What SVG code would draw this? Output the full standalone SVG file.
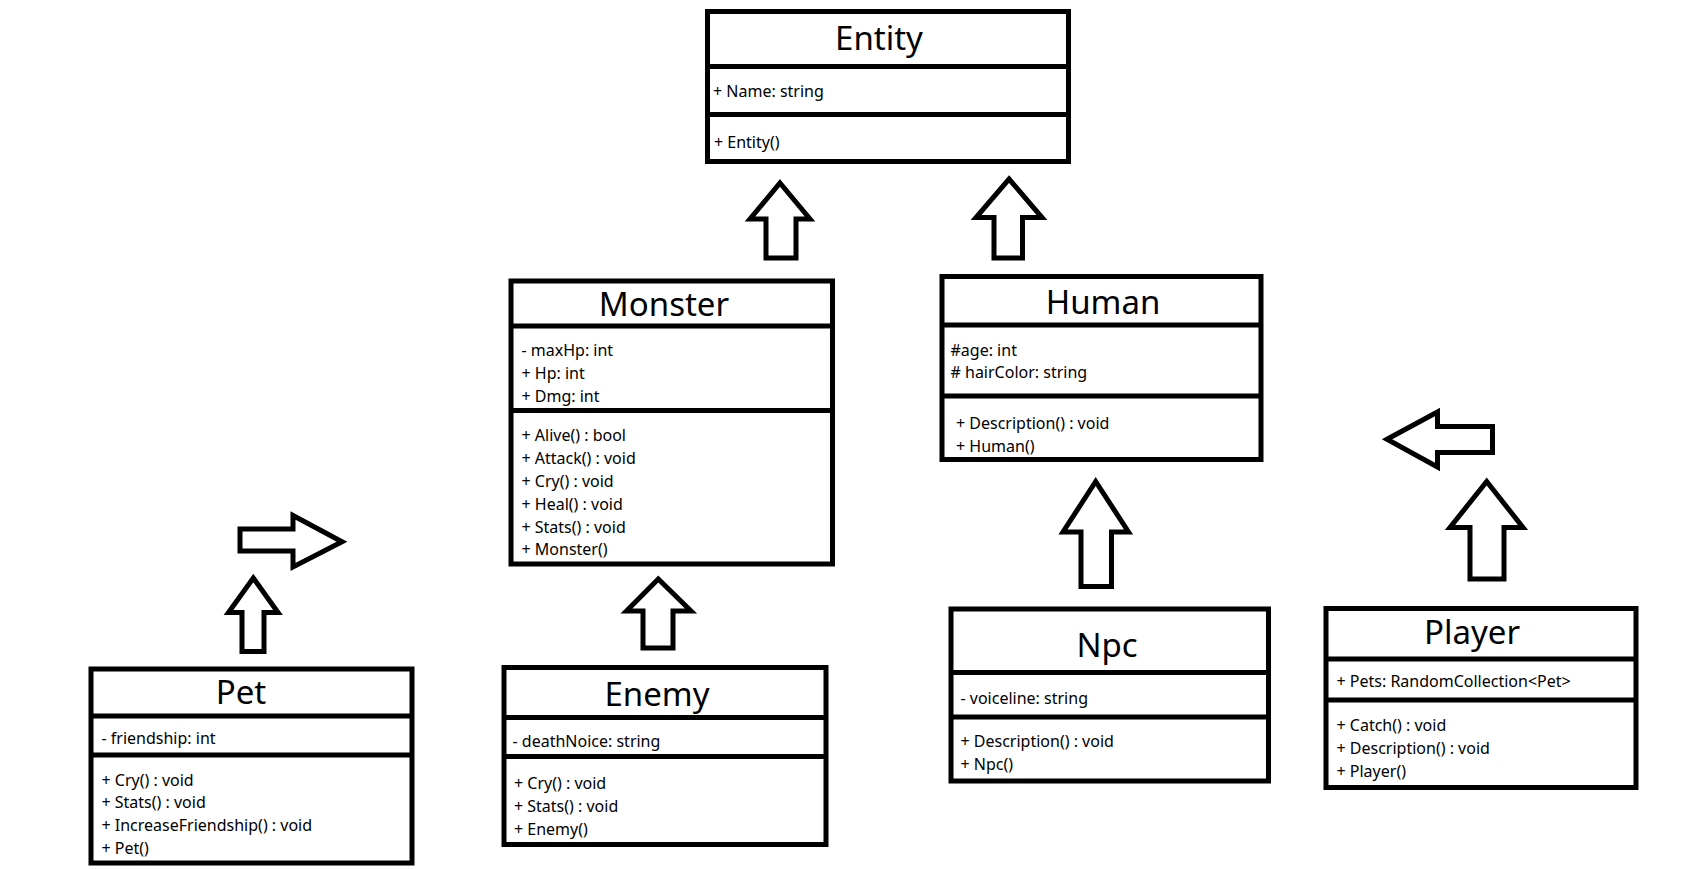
<svg xmlns="http://www.w3.org/2000/svg" width="1699" height="869" viewBox="0 0 1699 869">
<style>
.box{fill:#fff;stroke:#000;stroke-width:5}
.div{stroke:#000;stroke-width:5}
.arr{fill:#fff;stroke:#000;stroke-width:5;stroke-linejoin:miter}
.t{font-family:"Comic Sans MS","Noto Sans",sans-serif;font-size:33px;text-anchor:middle;fill:#000}
.m{font-family:"Comic Sans MS","Noto Sans",sans-serif;font-size:16px;fill:#000}
</style>
<rect width="1699" height="869" fill="#fff"/>
<g id="connectors">
<polygon class="arr" points="780,183 810,219 796,219 796,258 766,258 766,219 750,219"/>
<polygon class="arr" points="1009,179 1042,217.5 1022.5,217.5 1022.5,258 994,258 994,217.5 976,217.5"/>
<polygon class="arr" points="658.3,579 691,611 673,611 673,648 643,648 643,611 626.5,611"/>
<polygon class="arr" points="1095.7,481.5 1128.5,532 1111.5,532 1111.5,586.5 1081,586.5 1081,532 1063,532"/>
<polygon class="arr" points="1486.7,481.5 1523,527.5 1504,527.5 1504,579 1470,579 1470,527.5 1450,527.5"/>
<polygon class="arr" points="1387,439.3 1437.5,412 1437.5,426.5 1492.5,426.5 1492.5,452.5 1437.5,452.5 1437.5,467"/>
<polygon class="arr" points="253.3,578 278,612.5 264,612.5 264,651.5 242,651.5 242,612.5 228.5,612.5"/>
<polygon class="arr" points="342,541.7 293,567 293,551 240,551 240,529 293,529 293,515.5"/>
</g>
<g id="entity">
<rect class="box" x="707.5" y="11.5" width="361" height="150"/>
<line class="div" x1="707.5" y1="66.5" x2="1068.5" y2="66.5"/>
<line class="div" x1="707.5" y1="114.5" x2="1068.5" y2="114.5"/>
<text class="t" x="879" y="50">Entity</text>
<text class="m" x="713" y="96.5">+ Name: string</text>
<text class="m" x="714" y="147.5">+ Entity()</text>
</g>
<g id="monster">
<rect class="box" x="511" y="281" width="321.5" height="283"/>
<line class="div" x1="511" y1="326" x2="832.5" y2="326"/>
<line class="div" x1="511" y1="410.5" x2="832.5" y2="410.5"/>
<text class="t" x="664" y="316">Monster</text>
<text class="m" x="521.5" y="355.5">- maxHp: int</text>
<text class="m" x="521.5" y="378.5">+ Hp: int</text>
<text class="m" x="521.5" y="401.5">+ Dmg: int</text>
<text class="m" x="521.5" y="440.5">+ Alive() : bool</text>
<text class="m" x="521.5" y="463.5">+ Attack() : void</text>
<text class="m" x="521.5" y="486.5">+ Cry() : void</text>
<text class="m" x="521.5" y="509.5">+ Heal() : void</text>
<text class="m" x="521.5" y="532.5">+ Stats() : void</text>
<text class="m" x="521.5" y="555">+ Monster()</text>
</g>
<g id="human">
<rect class="box" x="942" y="276.5" width="319" height="183"/>
<line class="div" x1="942" y1="325" x2="1261" y2="325"/>
<line class="div" x1="942" y1="396" x2="1261" y2="396"/>
<text class="t" x="1103" y="314">Human</text>
<text class="m" x="950.5" y="355.5">#age: int</text>
<text class="m" x="950.5" y="377.5"># hairColor: string</text>
<text class="m" x="956" y="428.5">+ Description() : void</text>
<text class="m" x="956" y="451.5">+ Human()</text>
</g>
<g id="pet">
<rect class="box" x="91" y="669" width="321" height="194"/>
<line class="div" x1="91" y1="716" x2="412" y2="716"/>
<line class="div" x1="91" y1="755" x2="412" y2="755"/>
<text class="t" x="241" y="704">Pet</text>
<text class="m" x="101.5" y="744">- friendship: int</text>
<text class="m" x="101.5" y="785.5">+ Cry() : void</text>
<text class="m" x="101.5" y="808">+ Stats() : void</text>
<text class="m" x="101.5" y="830.5">+ IncreaseFriendship() : void</text>
<text class="m" x="101.5" y="853.5">+ Pet()</text>
</g>
<g id="enemy">
<rect class="box" x="504" y="667.5" width="322" height="177"/>
<line class="div" x1="504" y1="717.5" x2="826" y2="717.5"/>
<line class="div" x1="504" y1="756.5" x2="826" y2="756.5"/>
<text class="t" x="657" y="705.5">Enemy</text>
<text class="m" x="512.5" y="747">- deathNoice: string</text>
<text class="m" x="514" y="789">+ Cry() : void</text>
<text class="m" x="514" y="811.5">+ Stats() : void</text>
<text class="m" x="514" y="834.5">+ Enemy()</text>
</g>
<g id="npc">
<rect class="box" x="951" y="609" width="317.5" height="172"/>
<line class="div" x1="951" y1="672.5" x2="1268.5" y2="672.5"/>
<line class="div" x1="951" y1="717" x2="1268.5" y2="717"/>
<text class="t" x="1107" y="656.5">Npc</text>
<text class="m" x="960.5" y="704">- voiceline: string</text>
<text class="m" x="960.5" y="747">+ Description() : void</text>
<text class="m" x="960.5" y="769.5">+ Npc()</text>
</g>
<g id="player">
<rect class="box" x="1326" y="608.5" width="310" height="179"/>
<line class="div" x1="1326" y1="659" x2="1636" y2="659"/>
<line class="div" x1="1326" y1="700" x2="1636" y2="700"/>
<text class="t" x="1472" y="643.5">Player</text>
<text class="m" x="1336.5" y="686.5">+ Pets: RandomCollection&lt;Pet&gt;</text>
<text class="m" x="1336.5" y="730.5">+ Catch() : void</text>
<text class="m" x="1336.5" y="753.5">+ Description() : void</text>
<text class="m" x="1336.5" y="776.5">+ Player()</text>
</g>
</svg>
